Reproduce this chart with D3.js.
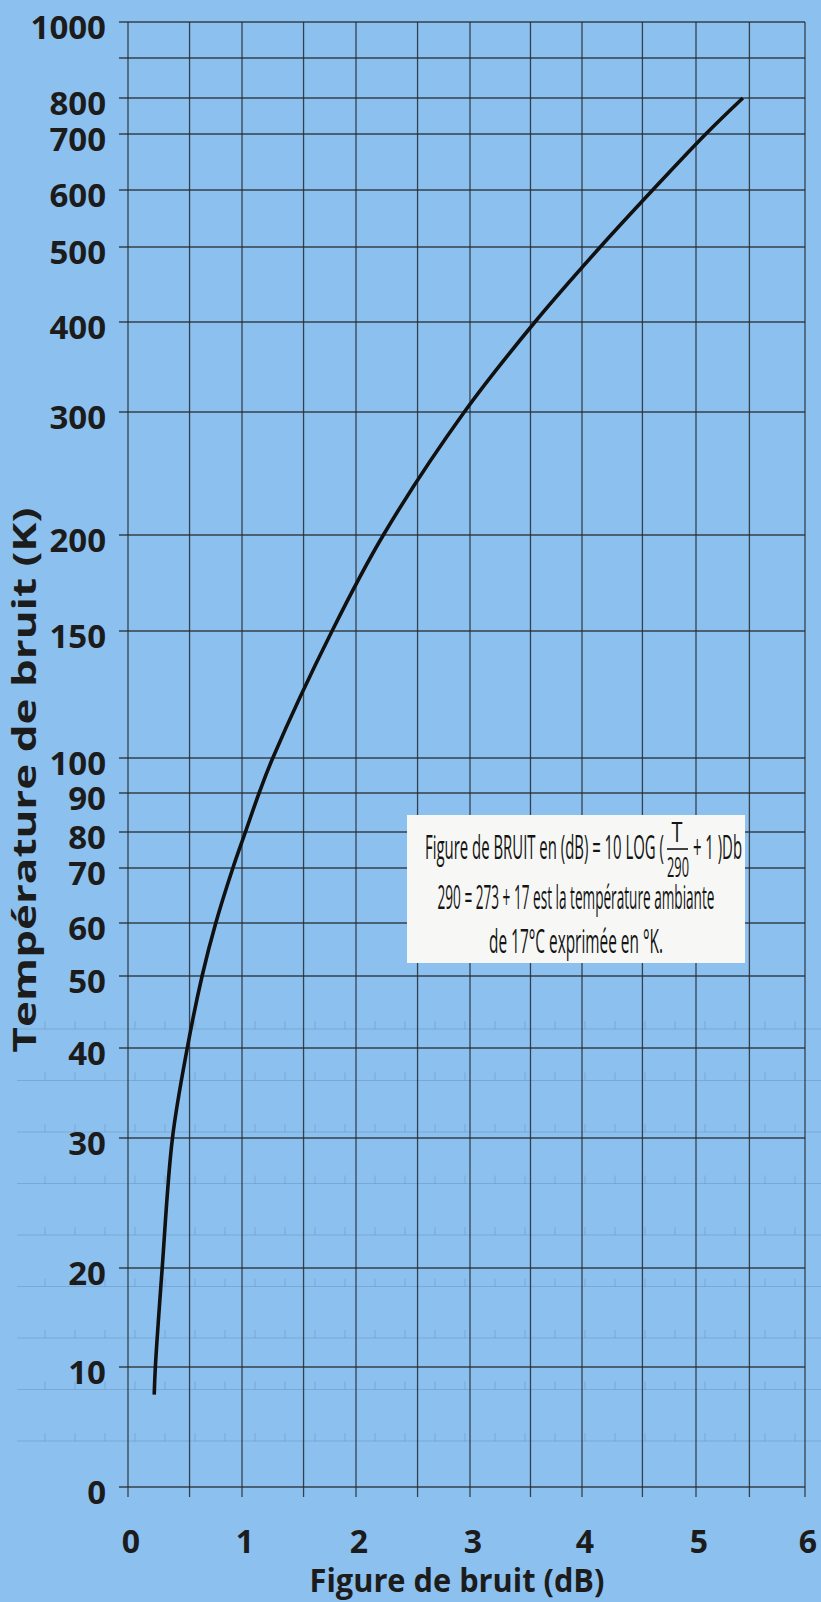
<!DOCTYPE html>
<html>
<head>
<meta charset="utf-8">
<script src="https://cdn.jsdelivr.net/npm/d3@7"></script>
<style>
  html, body { margin: 0; padding: 0; background: #8cc0ee; }
  svg { display: block; }
</style>
</head>
<body>
<div id="chart"></div>
<script>
// values
const xTicks = [0, 1, 2, 3, 4, 5, 6];
const xHalfGrid = [0.54, 1.54, 2.54, 3.54, 4.53, 5.49];
const yTicks = [0, 10, 20, 30, 40, 50, 60, 70, 80, 90, 100, 150, 200, 300, 400, 500, 600, 700, 800, 1000];
const yExtraGrid = [900];
const curveTemp = [7.7, 10, 20, 30, 40, 50, 60, 70, 80, 90, 100, 150, 200, 300, 400, 500, 600, 700, 800];
const curveNF = [0.23, 0.24, 0.30, 0.39, 0.52, 0.65, 0.77, 0.92, 1.03, 1.15, 1.27, 1.79, 2.24, 2.95, 3.58, 4.16, 4.62, 5.09, 5.43];

const xTitle = "Figure de bruit (dB)";
const yTitle = "Température de bruit (K)";
const noteLine1a = "Figure de BRUIT en (dB) = 10 LOG (";
const noteNum = "T";
const noteDen = "290";
const noteLine1b = "+ 1 )Db";
const noteLine2 = "290 = 273 + 17 est la température ambiante";
const noteLine3 = "de 17°C exprimée en °K.";

// layout: the printed axes are hand-spaced, so both scales are piecewise linear
const width = 821, height = 1602;
const xStops = [0, 1, 2, 3, 4, 5, 6];
const xStopPx = [128, 242, 356, 470, 582, 696, 805];
const yStops = [0, 10, 20, 30, 40, 50, 60, 70, 80, 90, 100, 150, 200, 300, 400, 500, 600, 700, 800, 900, 1000];
const yStopPx = [1487, 1367, 1268, 1138, 1048, 976, 923, 868, 832, 793, 758, 631, 535, 412, 322, 247, 190, 134, 98, 58, 22];

const x = d3.scaleLinear().domain(xStops).range(xStopPx);
const y = d3.scaleLinear().domain(yStops).range(yStopPx);

const ink = "#1c1c1c";
const gridInk = "#252a30";
const tickFont = "'Open Sans', 'DejaVu Sans', sans-serif";
const noteFont = "'Liberation Sans Narrow', 'Open Sans', sans-serif";

const svg = d3.select("#chart").append("svg")
  .attr("width", width)
  .attr("height", height)
  .attr("viewBox", [0, 0, width, height]);

svg.append("rect")
  .attr("width", width)
  .attr("height", height)
  .attr("fill", "#8cc1ef");

// faint ruled rows showing through the paper from the back page
const ghost = svg.append("g")
  .attr("stroke", "#5a7da0")
  .attr("stroke-opacity", 0.35)
  .attr("stroke-width", 1);
const ghostRows = d3.range(1029, 1445, 51.5);
ghostRows.forEach(r => {
  ghost.append("line")
    .attr("x1", 17).attr("x2", width)
    .attr("y1", r).attr("y2", r);
  ghost.selectAll(null)
    .data(d3.range(45, width, 30))
    .join("line")
    .attr("x1", d => d).attr("x2", d => d)
    .attr("y1", r - 8).attr("y2", r);
});

// grid
const grid = svg.append("g")
  .attr("stroke", gridInk)
  .attr("stroke-width", 1.3)
  .attr("stroke-opacity", 0.85);

grid.selectAll("line.v")
  .data(xTicks.concat(xHalfGrid))
  .join("line")
  .attr("class", "v")
  .attr("x1", d => x(d))
  .attr("x2", d => x(d))
  .attr("y1", y(1000))
  .attr("y2", y(0) + 10);

grid.selectAll("line.h")
  .data(yTicks.concat(yExtraGrid))
  .join("line")
  .attr("class", "h")
  .attr("x1", x(0) - 9)
  .attr("x2", x(6))
  .attr("y1", d => y(d))
  .attr("y2", d => y(d));

// tick labels
svg.append("g")
  .attr("font-family", tickFont)
  .attr("font-weight", 700)
  .attr("font-size", 33)
  .attr("fill", ink)
  .attr("text-anchor", "end")
  .selectAll("text")
  .data(yTicks)
  .join("text")
  .attr("x", 106)
  .attr("y", d => y(d) + 5)
  .attr("dy", "0.36em")
  .text(d => d);

svg.append("g")
  .attr("font-family", tickFont)
  .attr("font-weight", 700)
  .attr("font-size", 32)
  .attr("fill", ink)
  .attr("text-anchor", "middle")
  .selectAll("text")
  .data(xTicks)
  .join("text")
  .attr("x", d => x(d) + 3)
  .attr("y", 1553)
  .text(d => d);

// squeeze a text horizontally to a printed width, keeping its real bbox
function fitText(parent, txt, cx, baseY, len, opts) {
  const t = parent.append("text")
    .attr("text-anchor", "middle")
    .attr("font-family", opts.family)
    .attr("font-weight", opts.weight || 400)
    .attr("font-size", opts.size)
    .attr("fill", opts.fill || ink)
    .text(txt);
  const natural = t.node().getComputedTextLength() || len;
  const sx = len / natural;
  const rot = opts.rotate ? ` rotate(${opts.rotate})` : "";
  t.attr("transform", `translate(${cx},${baseY})${rot} scale(${sx},1)`);
  return t;
}

// axis titles
fitText(svg, xTitle, 457, 1592, 295, { family: tickFont, weight: 700, size: 32 });
fitText(svg, yTitle, 36, 780, 545, { family: tickFont, weight: 700, size: 33, rotate: -90 });

// the curve
const pts = curveTemp.map((t, i) => [curveNF[i], t]);
const line = d3.line()
  .x(d => x(d[0]))
  .y(d => y(d[1]))
  .curve(d3.curveCatmullRom.alpha(0.5));

svg.append("path")
  .datum(pts)
  .attr("d", line)
  .attr("fill", "none")
  .attr("stroke", "#111")
  .attr("stroke-width", 3.6)
  .attr("stroke-linecap", "butt");

// formula box
const box = svg.append("g");
box.append("rect")
  .attr("x", 407)
  .attr("y", 815)
  .attr("width", 338)
  .attr("height", 148)
  .attr("fill", "#f7f8f5");

const noteOpts = { family: noteFont, size: 33, fill: "#141414" };
const fracOpts = { family: noteFont, size: 27, fill: "#141414" };

fitText(box, noteLine1a, 425 + 239 / 2, 859, 239, noteOpts);
fitText(box, noteNum, 677, 842, 11, fracOpts);
box.append("line")
  .attr("x1", 667).attr("x2", 688)
  .attr("y1", 849).attr("y2", 849)
  .attr("stroke", "#141414")
  .attr("stroke-width", 1.6);
fitText(box, noteDen, 678, 877, 22, fracOpts);
fitText(box, noteLine1b, 693 + 49 / 2, 859, 49, noteOpts);
fitText(box, noteLine2, 576, 909, 277, noteOpts);
fitText(box, noteLine3, 576, 953, 174, noteOpts);
</script>
</body>
</html>
